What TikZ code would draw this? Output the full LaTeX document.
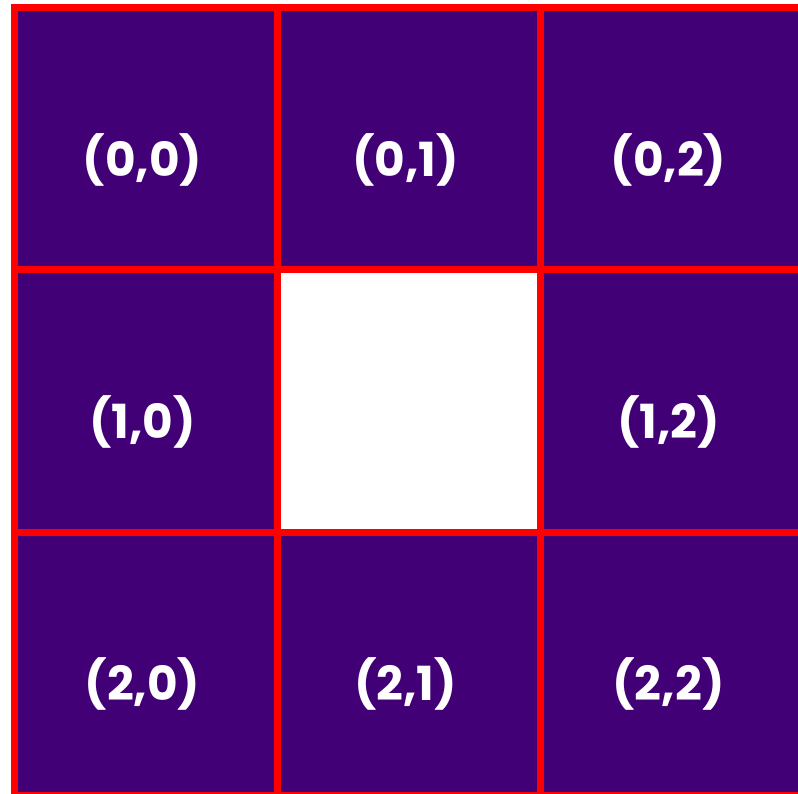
\documentclass[tikz,border=0pt]{standalone}
\usepackage{fontspec}
\setmainfont{Poppins}
\definecolor{cellpurple}{RGB}{66,0,118}
\tikzset{
  cell/.style={draw=red, fill=cellpurple, line width=7pt, minimum size=263pt, inner sep=0pt, outer sep=0pt},
  hole/.style={cell, fill=white},
  celltext/.style={text=white, font=\bfseries\fontsize{47}{56}\selectfont, inner sep=0pt}
}

\begin{document}
\begin{tikzpicture}[x=1pt,y=-1pt]
\useasboundingbox (0,0) rectangle (798,794);
\fill[white] (0,0) rectangle (798,794);
\foreach \r in {0,1,2}{
  \foreach \c in {0,1,2}{
    \ifnum\r\c=11
      \node[hole] (c-\r-\c) at (145.5+263*\c,139.5+262*\r) {};
    \else
      \node[cell] (c-\r-\c) at (145.5+263*\c,139.5+262*\r) {};
      \node[celltext] (t-\r-\c) at ([xshift=-3pt,yshift=-20pt]c-\r-\c.center) {(\r,\c)};
    \fi
  }
}
\end{tikzpicture}
\end{document}
